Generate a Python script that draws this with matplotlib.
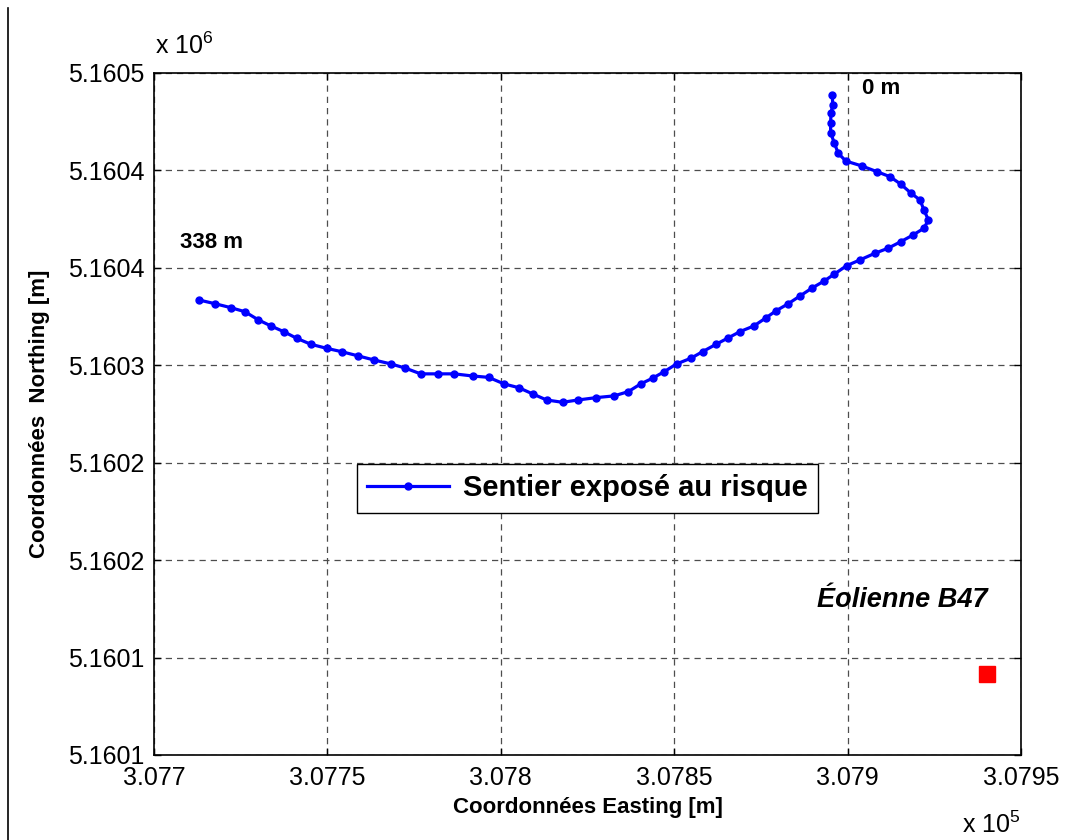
import matplotlib
matplotlib.use("Agg")
import matplotlib.pyplot as plt
from matplotlib.lines import Line2D

plt.rcParams['font.family'] = ['Liberation Sans', 'DejaVu Sans']

# Path points (from 0 m at the top right to 338 m at the left)
easting = [307895.6, 307895.7, 307895.2, 307895.1, 307895.1, 307896.2, 307897.3, 307899.5,
           307904.1, 307908.4, 307912.2, 307915.3, 307918.3, 307920.9, 307922.0, 307923.3,
           307922.0, 307918.9, 307915.3, 307911.7, 307907.9, 307903.6, 307899.7, 307896.1,
           307893.2, 307889.8, 307886.3, 307882.8, 307879.4, 307876.5, 307873.0, 307869.0,
           307865.4, 307862.1, 307858.2, 307854.8, 307850.7, 307847.1, 307843.8, 307840.3,
           307836.8, 307832.7, 307827.5, 307822.3, 307817.8, 307813.2, 307809.2, 307805.2,
           307801.0, 307796.5, 307791.9, 307786.6, 307782.0, 307776.9, 307772.4, 307768.3,
           307763.5, 307758.9, 307754.3, 307749.8, 307745.2, 307741.1, 307737.6, 307733.7,
           307730.1, 307726.2, 307722.1, 307717.6, 307713.0]
northing = [5160438.7, 5160433.6, 5160429.3, 5160424.5, 5160419.4, 5160413.9, 5160408.8, 5160404.8,
            5160402.3, 5160399.4, 5160396.8, 5160393.0, 5160388.3, 5160384.8, 5160379.7, 5160374.6,
            5160370.3, 5160366.9, 5160363.4, 5160360.1, 5160357.5, 5160354.1, 5160351.1, 5160346.7,
            5160343.2, 5160339.7, 5160335.6, 5160331.5, 5160328.0, 5160324.4, 5160320.2, 5160317.3,
            5160313.9, 5160310.8, 5160307.0, 5160303.6, 5160300.7, 5160296.7, 5160293.4, 5160290.4,
            5160286.5, 5160284.3, 5160283.4, 5160282.2, 5160281.0, 5160282.2, 5160285.3, 5160288.5,
            5160290.4, 5160293.8, 5160294.5, 5160295.6, 5160295.6, 5160295.6, 5160298.6, 5160300.7,
            5160302.7, 5160304.8, 5160306.9, 5160308.7, 5160310.8, 5160313.9, 5160317.1, 5160320.2,
            5160323.3, 5160327.5, 5160329.6, 5160331.6, 5160333.5]

# wind turbine position
turbine_e = [307940.1]
turbine_n = [5160141.6]

xticks = [307700, 307750, 307800, 307850, 307900, 307950]
xtick_labels = ['3.077', '3.0775', '3.078', '3.0785', '3.079', '3.0795']
yticks = [5160100, 5160150, 5160200, 5160250, 5160300, 5160350, 5160400, 5160450]
ytick_labels = ['5.1601', '5.1601', '5.1602', '5.1602', '5.1603', '5.1604', '5.1604', '5.1605']

fig = plt.figure(figsize=(10.67, 8.4), dpi=100)
ax = fig.add_axes([0.1443, 0.1012, 0.8126, 0.8119])

ax.plot(easting, northing, '-', color='#0000ff', lw=2.3, marker='o', ms=5,
        label='Sentier exposé au risque', zorder=3)
ax.plot(turbine_e, turbine_n, 's', color='#ff0000', ms=12, zorder=3)

ax.text(307904.1, 5160441.8, '0 m', fontsize=16, fontweight='bold', va='center')
ax.text(307707.5, 5160362.8, '338 m', fontsize=16, fontweight='bold', va='center')
ax.text(307891.2, 5160179.6, 'Éolienne B47', fontsize=19.5, fontweight='bold',
        style='italic', va='center')

ax.set_xlim(xticks[0], xticks[-1])
ax.set_ylim(yticks[0], yticks[-1])
ax.set_xticks(xticks)
ax.set_xticklabels(xtick_labels)
ax.set_yticks(yticks)
ax.set_yticklabels(ytick_labels)
ax.tick_params(direction='in', length=5, width=1, labelsize=18, top=True, right=True)
ax.tick_params(axis='x', pad=8)
ax.tick_params(axis='y', pad=7)
ax.grid(True, color='0.3', linestyle=(0, (5, 4)), lw=0.9)
for s in ax.spines.values():
    s.set_linewidth(1.2)

ax.set_xlabel('Coordonnées Easting [m]', fontsize=16, fontweight='bold')
ax.set_ylabel('Coordonnées  Northing [m]', fontsize=16, fontweight='bold')
ax.xaxis.set_label_coords(0.5, -0.062)
ax.yaxis.set_label_coords(-0.12, 0.5)

leg = ax.legend(loc='center', bbox_to_anchor=(0.5, 0.391),
                prop={'weight': 'bold', 'size': 21}, fancybox=False, framealpha=1,
                edgecolor='black', handlelength=2.8, borderpad=0.35, handletextpad=0.5)
leg.get_frame().set_linewidth(1.0)

fig.text(0.1453, 0.945, r'x $\mathregular{10^{6}}$', fontsize=18, ha='left', va='center')
fig.text(0.956, 0.018, r'x $\mathregular{10^{5}}$', fontsize=18, ha='right', va='center')

fig.add_artist(Line2D([0.0075, 0.0075], [0.0, 0.99], transform=fig.transFigure,
                      color='black', lw=1.2))

fig.savefig('out.png', dpi=100)
